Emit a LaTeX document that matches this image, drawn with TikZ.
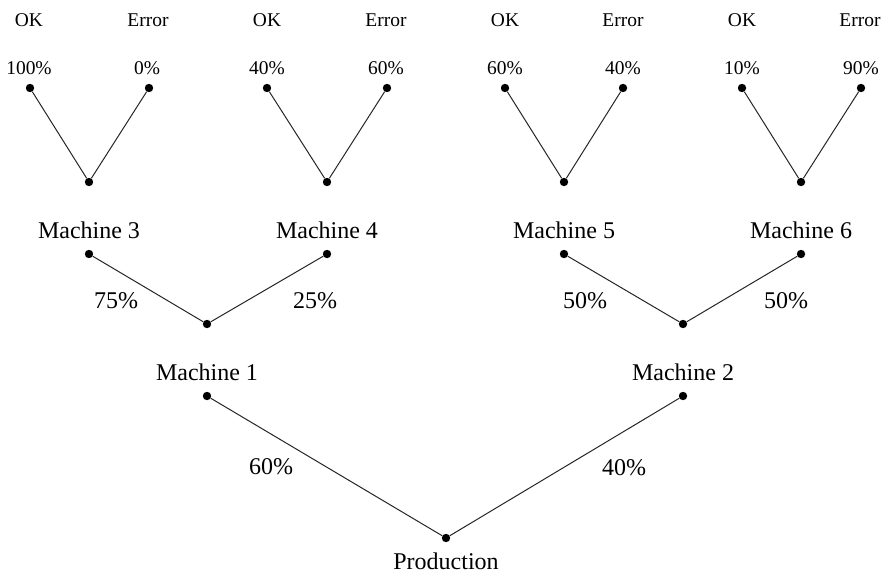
\documentclass[tikz,border=0pt]{standalone}
\usepackage{fontspec}
\setmainfont{Liberation Serif}
\begin{document}
\begin{tikzpicture}[x=0.75pt,y=-0.75pt,
  dot/.style={circle,fill=black,inner sep=0pt,minimum size=6.3pt},
  big/.style={anchor=base,inner sep=0pt,font=\fontsize{18}{20}\selectfont},
  small/.style={anchor=base,inner sep=0pt,font=\fontsize{14.6}{16}\selectfont},
  edge/.style={line width=0.75pt,black!85}]
\useasboundingbox (0,0) rectangle (888,575);

% top leaves and junctions
\node[dot] (ok3) at (30,88) {};   \node[dot] (er3) at (149,88) {};  \node[dot] (j3) at (89,182) {};
\node[dot] (ok4) at (267,88) {};  \node[dot] (er4) at (387,88) {};  \node[dot] (j4) at (327,182) {};
\node[dot] (ok5) at (505,88) {};  \node[dot] (er5) at (623,88) {};  \node[dot] (j5) at (564,182) {};
\node[dot] (ok6) at (742,88) {};  \node[dot] (er6) at (861,88) {};  \node[dot] (j6) at (801,182) {};

\node[small] (tok3) at (29,26) {OK};   \node[small] (ter3) at (148,26) {Error};
\node[small] (tok4) at (267,26) {OK};  \node[small] (ter4) at (386,26) {Error};
\node[small] (tok5) at (505,26) {OK};  \node[small] (ter5) at (623,26) {Error};
\node[small] (tok6) at (742,26) {OK};  \node[small] (ter6) at (860,26) {Error};

\node[small] (pok3) at (29,74) {100\%};  \node[small] (per3) at (147,74) {0\%};
\node[small] (pok4) at (267,74) {40\%};  \node[small] (per4) at (386,74) {60\%};
\node[small] (pok5) at (505,74) {60\%};  \node[small] (per5) at (623,74) {40\%};
\node[small] (pok6) at (742,74) {10\%};  \node[small] (per6) at (861,74) {90\%};

\draw[edge] (ok3) -- (j3) -- (er3);
\draw[edge] (ok4) -- (j4) -- (er4);
\draw[edge] (ok5) -- (j5) -- (er5);
\draw[edge] (ok6) -- (j6) -- (er6);

% machines 3-6
\node[big] (tm3) at (89,238) {Machine 3};
\node[big] (tm4) at (327,238) {Machine 4};
\node[big] (tm5) at (564,238) {Machine 5};
\node[big] (tm6) at (801,238) {Machine 6};
\node[dot] (m3) at (89,254) {};
\node[dot] (m4) at (327,254) {};
\node[dot] (m5) at (564,254) {};
\node[dot] (m6) at (801,254) {};
\node[dot] (j1) at (207,324) {};
\node[dot] (j2) at (683,324) {};
\draw[edge] (m3) -- (j1) -- (m4);
\draw[edge] (m5) -- (j2) -- (m6);
\node[big] (p75) at (116,308) {75\%};
\node[big] (p25) at (315,308) {25\%};
\node[big] (p50a) at (585,308) {50\%};
\node[big] (p50b) at (786,308) {50\%};

% machines 1-2
\node[big] (tm1) at (207,380) {Machine 1};
\node[big] (tm2) at (683,380) {Machine 2};
\node[dot] (m1) at (207,396) {};
\node[dot] (m2) at (683,396) {};
\node[dot] (prod) at (446,538) {};
\draw[edge] (m1) -- (prod) -- (m2);
\node[big] (p60) at (271,474) {60\%};
\node[big] (p40) at (624,475) {40\%};
\node[big] (tprod) at (446,569) {Production};
\end{tikzpicture}
\end{document}
